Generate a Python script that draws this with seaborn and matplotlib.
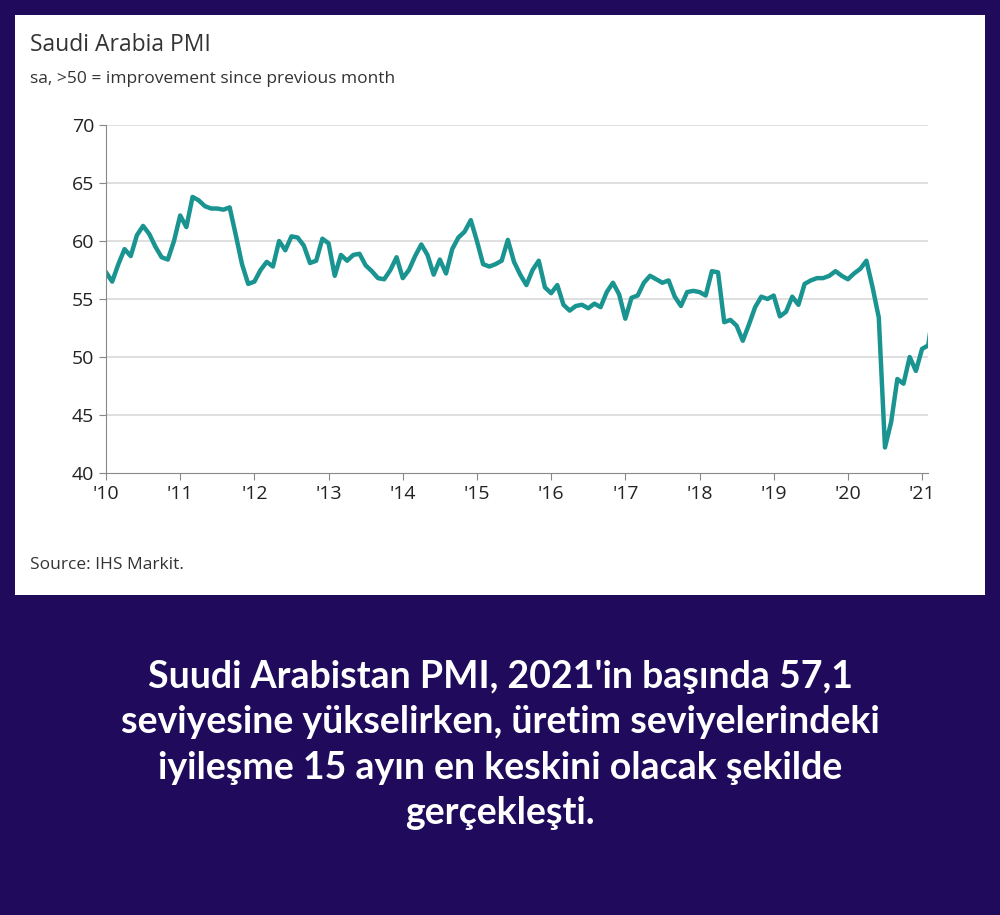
import numpy as np
import pandas as pd
import matplotlib
matplotlib.use("Agg")
import matplotlib.pyplot as plt
import seaborn as sns
from matplotlib.patches import Rectangle

pmi = [
 57.3,56.5,58.0,59.3,58.7,60.5,61.3,60.6,59.5,58.6,58.4,60.0,
 62.2,61.2,63.8,63.5,63.0,62.8,62.8,62.7,62.9,60.5,58.0,56.3,
 56.5,57.5,58.2,57.8,60.0,59.2,60.4,60.3,59.6,58.1,58.3,60.2,
 59.8,57.0,58.8,58.3,58.8,58.9,57.9,57.4,56.8,56.7,57.5,58.6,
 56.8,57.5,58.7,59.7,58.8,57.1,58.4,57.2,59.3,60.3,60.8,61.8,
 60.0,58.0,57.8,58.0,58.3,60.1,58.2,57.1,56.2,57.5,58.3,56.0,
 55.5,56.2,54.5,54.0,54.4,54.5,54.2,54.6,54.3,55.6,56.4,55.4,
 53.3,55.1,55.3,56.4,57.0,56.7,56.4,56.6,55.2,54.4,55.6,55.7,
 55.6,55.3,57.4,57.3,53.0,53.2,52.7,51.4,52.8,54.3,55.2,55.0,
 55.3,53.5,53.9,55.2,54.5,56.3,56.6,56.8,56.8,57.0,57.4,57.0,
 56.7,57.2,57.6,58.3,56.0,53.4,42.2,44.4,48.1,47.7,50.0,48.8,
 50.7,51.0,54.7,57.0,57.1]
# data starts Jan 2010
t = 2010 + np.arange(len(pmi)) / 12.0
df = pd.DataFrame({"t": t, "pmi": pmi})
year_ticks = list(range(2010, 2022))
year_labels = ["'%02d" % (y % 100) for y in year_ticks]
y_ticks = [40, 45, 50, 55, 60, 65, 70]

bg = "#1f0a5c"
fig = plt.figure(figsize=(10, 9.15), dpi=100, facecolor=bg)
fig.patches.append(Rectangle((15/1000, 1-595/915), 970/1000, 580/915,
                             transform=fig.transFigure, facecolor="white", edgecolor="none", zorder=-10))
ax = fig.add_axes([106/1000, 1-473/915, (928-106)/1000, (473-125)/915])
ax.set_zorder(5)
sns.lineplot(data=df, x="t", y="pmi", ax=ax, color="#1a9490", linewidth=3.2)
ax.set_xlim(2010, 2021.08)
ax.set_ylim(40, 70)
ax.set_yticks(y_ticks)
ax.set_xticks(year_ticks)
ax.set_xticklabels(year_labels)
for y in y_ticks[1:]:
    ax.axhline(y, color="#d9d9d9", lw=1.2, zorder=0)
for s in ["top", "right"]:
    ax.spines[s].set_visible(False)
ax.spines["left"].set_color("#888888")
ax.spines["bottom"].set_color("#888888")
ax.tick_params(axis="both", colors="#888888", labelcolor="#222222", labelsize=14, length=5)
ax.set_xlabel(""); ax.set_ylabel("")
ax.set_facecolor("white")
for lab in ax.get_xticklabels() + ax.get_yticklabels():
    lab.set_fontfamily("Open Sans")

fig.text(30/1000, 1-45/915, "Saudi Arabia PMI", fontsize=16.5, family="Open Sans", color="#333333", va="center")
fig.text(30/1000, 1-79/915, "sa, >50 = improvement since previous month", fontsize=12.5, family="Open Sans", color="#333333", va="center")
fig.text(30/1000, 1-565/915, "Source: IHS Markit.", fontsize=12.5, family="Open Sans", color="#333333", va="center")

caption = ("Suudi Arabistan PMI, 2021'in başında 57,1\n"
           "seviyesine yükselirken, üretim seviyelerindeki\n"
           "iyileşme 15 ayın en keskini olacak şekilde\n"
           "gerçekleşti.")
fig.text(0.5, 1-745/915, caption, fontsize=27, family="Lato", weight="bold", color="white",
         ha="center", va="center", linespacing=1.4)

fig.savefig("out.png", dpi=100, facecolor=bg)
